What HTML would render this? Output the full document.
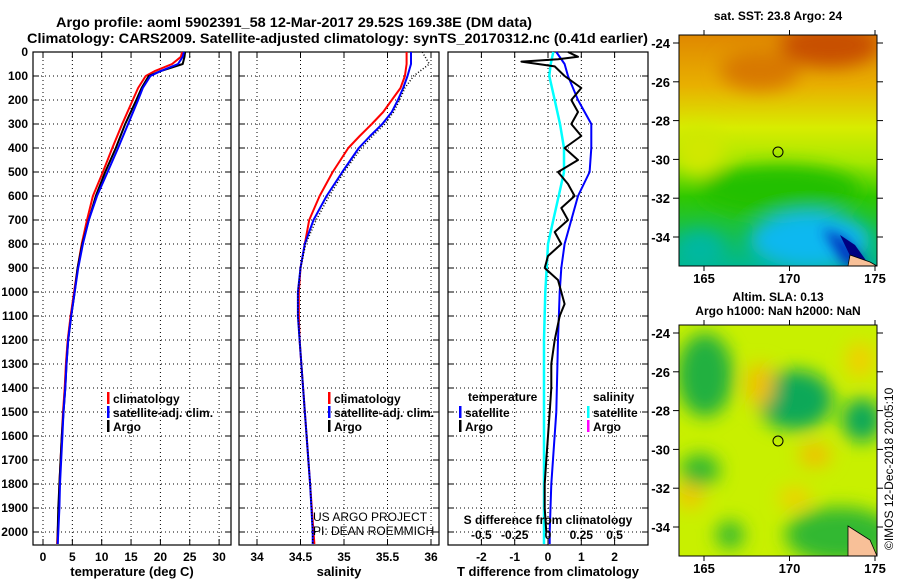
<!DOCTYPE html>
<html><head><meta charset="utf-8"><style>
html,body{margin:0;padding:0;background:#fff}
svg{display:block;font-family:"Liberation Sans",sans-serif}
.b{font-weight:bold}
</style></head><body>
<svg id="c" width="900" height="580" viewBox="0 0 900 580" xmlns="http://www.w3.org/2000/svg">
<defs>
<filter id="bl" x="-20%" y="-20%" width="140%" height="140%"><feGaussianBlur stdDeviation="9"/></filter>
<filter id="bl2" x="-20%" y="-20%" width="140%" height="140%"><feGaussianBlur stdDeviation="6"/></filter>
<clipPath id="m1"><rect x="679" y="35" width="198" height="231"/></clipPath>
<clipPath id="m2"><rect x="679" y="325" width="198" height="231"/></clipPath>
<linearGradient id="sst" x1="0" y1="0" x2="0" y2="1">
<stop offset="0" stop-color="#e08800"/><stop offset="0.22" stop-color="#e8b000"/><stop offset="0.4" stop-color="#d8ec00"/><stop offset="0.55" stop-color="#a8e800"/><stop offset="0.7" stop-color="#30c800"/><stop offset="1" stop-color="#00b890"/>
</linearGradient>
</defs>
<text class="b" x="56" y="27" font-size="14" textLength="476" lengthAdjust="spacingAndGlyphs">Argo profile: aoml 5902391_58 12-Mar-2017 29.52S 169.38E (DM data)</text>
<text class="b" x="27" y="43" font-size="14" textLength="621" lengthAdjust="spacingAndGlyphs">Climatology: CARS2009. Satellite-adjusted climatology: synTS_20170312.nc (0.41d earlier)</text>
<g id="plots"></g>
<g clip-path="url(#m1)">
<rect x="679" y="35" width="198" height="231" fill="url(#sst)"/>
<g filter="url(#bl)">
<ellipse cx="830" cy="45" rx="50" ry="22" fill="#c85000"/>
<ellipse cx="760" cy="70" rx="40" ry="20" fill="#d87800"/>
<ellipse cx="780" cy="190" rx="80" ry="25" fill="#20c000"/>
<ellipse cx="700" cy="150" rx="25" ry="25" fill="#d0e800"/>
<ellipse cx="810" cy="240" rx="60" ry="28" fill="#10b8f0"/>
<ellipse cx="700" cy="250" rx="25" ry="20" fill="#00b8a0"/>
</g>
<polygon points="822,228 845,238 868,266 845,266" fill="#0030c0" filter="url(#bl2)"/>
<polygon points="840,235 855,245 870,266 855,266" fill="#000080"/>
<polygon points="850,255 870,262 877,266 848,266" fill="#f8c098" stroke="#000" stroke-width="0.8"/>
</g>
<rect x="679" y="35" width="198" height="231" fill="none" stroke="#000"/>
<circle cx="778" cy="152" r="5" fill="none" stroke="#000"/>
<g clip-path="url(#m2)">
<rect x="679" y="325" width="198" height="231" fill="#c8f000"/>
<g filter="url(#bl)">
<ellipse cx="705" cy="375" rx="28" ry="42" fill="#20b040"/>
<ellipse cx="795" cy="400" rx="38" ry="30" fill="#10a858"/>
<ellipse cx="862" cy="420" rx="20" ry="22" fill="#10a858"/>
<ellipse cx="760" cy="385" rx="14" ry="22" fill="#f0c000"/>
<ellipse cx="815" cy="455" rx="16" ry="12" fill="#f0c000"/>
<ellipse cx="795" cy="498" rx="16" ry="11" fill="#f0d000"/>
<ellipse cx="690" cy="495" rx="14" ry="14" fill="#f0c800"/>
<ellipse cx="700" cy="470" rx="20" ry="16" fill="#30b830"/>
<ellipse cx="840" cy="535" rx="55" ry="28" fill="#30b830"/>
<ellipse cx="730" cy="535" rx="14" ry="14" fill="#30b830"/>
<ellipse cx="860" cy="360" rx="14" ry="18" fill="#f0d000"/>
</g>
<polygon points="848,526 870,540 877,556 848,556" fill="#f8c098" stroke="#000" stroke-width="0.8"/>
</g>
<rect x="679" y="325" width="198" height="231" fill="none" stroke="#000"/>
<circle cx="778" cy="441" r="5" fill="none" stroke="#000"/>
<text class="b" x="778" y="20" font-size="12" text-anchor="middle">sat. SST: 23.8 Argo: 24</text>
<text class="b" x="778" y="301" font-size="12" text-anchor="middle">Altim. SLA: 0.13</text>
<text class="b" x="778" y="315" font-size="12" text-anchor="middle">Argo h1000: NaN h2000: NaN</text>
<text x="893" y="550" font-size="12" transform="rotate(-90 893 550)">©IMOS 12-Dec-2018 20:05:10</text>
<g id="mapax"></g>
<text x="313" y="521" font-size="12">US ARGO PROJECT</text>
<text x="313" y="535" font-size="12">PI: DEAN ROEMMICH</text>
</svg>
<script>
const depthTicks=[0,100,200,300,400,500,600,700,800,900,1000,1100,1200,1300,1400,1500,1600,1700,1800,1900,2000];
const tempTicks=[0,5,10,15,20,25,30];
const salTicks=[34,34.5,35,35.5,36];
const tdiffTicks=[-2,-1,0,1,2];
const sdiffTicks=[-0.5,-0.25,0,0.25,0.5];
const sdiffLabels=['-0.5','-0.25','0','0.25','0.5'];
const tempDepth=[0,20,50,80,100,150,200,300,400,500,600,700,800,900,1000,1100,1200,1300,1400,1500,1600,1700,1800,1900,2000,2050];
const tempClim=[23.7,23.5,22,19,17.5,16.2,15.3,13.5,11.8,10.2,8.5,7.5,6.6,5.9,5.3,4.7,4.2,3.9,3.7,3.4,3.2,3.0,2.8,2.7,2.5,2.4];
const tempSat=[24,23.8,23,20,18.3,17.0,16.2,14.5,12.8,11.0,9.2,7.8,6.8,6.0,5.4,4.8,4.3,4.0,3.8,3.5,3.3,3.1,2.9,2.8,2.6,2.5];
const tempArgo=[24.2,24.1,23.8,20,18,16.8,15.9,14.0,12.4,10.6,9.0,7.8,6.7,5.9,5.4,4.8,4.3,4.0,3.8,3.5,3.2,3.0,2.8,2.6,2.5,2.5];
const salDepth=[0,50,100,150,200,250,300,350,400,500,600,700,800,900,1000,1100,1200,1400,1600,1800,2000,2050];
const salClim=[35.72,35.72,35.7,35.65,35.55,35.45,35.32,35.18,35.05,34.87,34.72,34.6,34.55,34.5,34.48,34.48,34.49,34.53,34.57,34.61,34.65,34.66];
const salSat=[35.77,35.77,35.73,35.68,35.62,35.55,35.44,35.3,35.17,34.98,34.8,34.65,34.55,34.5,34.47,34.47,34.49,34.53,34.57,34.61,34.64,34.64];
const salArgo=[35.9,35.98,35.8,35.7,35.64,35.57,35.47,35.33,35.2,35.0,34.83,34.68,34.56,34.5,34.47,34.47,34.49,34.53,34.57,34.61,34.64,34.64];
const diffDepth=[0,50,100,200,300,400,500,600,700,800,900,1000,1200,1500,1800,2000,2050];
const tdiffSat=[0.25,0.5,0.6,0.9,1.3,1.3,1.25,0.9,0.7,0.5,0.4,0.35,0.3,0.25,0.1,0.05,0.05];
const sdiffSat=[0.04,0.02,0.01,0.05,0.09,0.12,0.12,0.08,0.04,0.0,-0.01,-0.02,-0.03,-0.03,-0.03,-0.03,-0.03];
const argoDiffDepth=[0,20,30,40,60,100,150,200,250,300,350,400,450,500,550,600,650,700,750,800,850,900,950,1000,1050,1100,1200,1300,1400,1500,1600,1700,1800,1900,2000];
const tdiffArgo=[0.6,0.9,0.3,-0.8,0.2,0.5,1.0,0.7,0.9,0.7,1.0,0.5,0.9,0.3,0.6,0.8,0.4,0.6,0.2,0.4,0.0,-0.1,0.3,0.4,0.5,0.35,0.2,0.1,0.1,0.05,0,-0.05,-0.1,-0.1,-0.05];
const latTicks=[-24,-26,-28,-30,-32,-34];
const lonTicks=[165,170,175];

const NS='http://www.w3.org/2000/svg';
const G=document.getElementById('plots');
function mk(t,a,p){const e=document.createElementNS(NS,t);for(const k in a)e.setAttribute(k,a[k]);(p||G).appendChild(e);return e;}
const Y=d=>52+d*0.24;
const yTop=52,yBot=545;
const panels=[
 {name:'temperature',x0:33,x1:231,f:v=>43+v*5.87,ticks:tempTicks,label:'temperature (deg C)'},
 {name:'salinity',x0:239,x1:439,f:v=>257+(v-34)*87,ticks:salTicks,label:'salinity'},
 {name:'difference',x0:448,x1:648,f:v=>548+v*33.3,ticks:tdiffTicks,label:'T difference from climatology'}
];
const fs=v=>548+v*133.2;
panels.forEach((p,i)=>{
 const g=mk('g',{});
 
 
 depthTicks.forEach(d=>{
  if(d>0) mk('line',{x1:p.x0,x2:p.x1,y1:Y(d),y2:Y(d),stroke:'#000','stroke-dasharray':'1 3','stroke-width':1},g);
  mk('line',{x1:p.x0,x2:p.x0+6,y1:Y(d),y2:Y(d),stroke:'#000'},g);
  mk('line',{x1:p.x1,x2:p.x1-6,y1:Y(d),y2:Y(d),stroke:'#000'},g);
 });
 p.ticks.forEach(v=>{
  const x=p.f(v);
  mk('line',{x1:x,x2:x,y1:yTop,y2:yBot,stroke:'#000','stroke-dasharray':'1 3'},g);
  mk('line',{x1:x,x2:x,y1:yBot,y2:yBot-6,stroke:'#000'},g);
  mk('line',{x1:x,x2:x,y1:yTop,y2:yTop+6,stroke:'#000'},g);
  const t=mk('text',{x:x,y:561,'font-size':12,'text-anchor':'middle','class':'b'},g);
  
  
  t.textContent=String(v);
 });
 mk('rect',{x:p.x0,y:yTop,width:p.x1-p.x0,height:yBot-yTop,fill:'none',stroke:'#000','stroke-width':1.2},g);
 const tl=mk('text',{x:(p.x0+p.x1)/2,y:576,'font-size':13,'text-anchor':'middle','class':'b'},g);
 
 
 tl.textContent=p.label;
});
depthTicks.forEach(d=>{
 const t=mk('text',{x:28,y:Y(d)+4,'font-size':12,'text-anchor':'end','class':'b'});
 
 
 t.textContent=String(d);
});
function line(xs,ds,f,col,w,name,dash){
 const pts=xs.map((v,i)=>f(v).toFixed(1)+','+Y(ds[i]).toFixed(1)).join(' ');
 const e=mk('polyline',{points:pts,fill:'none',stroke:col,'stroke-width':w,'stroke-linejoin':'round'});
 if(dash)e.setAttribute('stroke-dasharray',dash);
 
 
}
const P=panels;
line(tempClim,tempDepth,P[0].f,'#f00',2,'temp-climatology-line');
line(tempArgo,tempDepth,P[0].f,'#000',2,'temp-argo-line');
line(tempSat,tempDepth,P[0].f,'#00f',2,'temp-satellite-line');
line(salClim,salDepth,P[1].f,'#f00',2,'sal-climatology-line');
line(salSat,salDepth,P[1].f,'#00f',2,'sal-satellite-line');
line(salArgo,salDepth,P[1].f,'#000',1.5,'sal-argo-line','1 2');
line(sdiffSat,diffDepth,fs,'#0ff',2.5,'sdiff-satellite-line');
line(tdiffSat,diffDepth,P[2].f,'#00f',2,'tdiff-satellite-line');
line(tdiffArgo,argoDiffDepth,P[2].f,'#000',2,'tdiff-argo-line');
const sl=mk('text',{x:548,y:524,'font-size':12,'text-anchor':'middle','class':'b'});


sl.textContent='S difference from climatology';
sdiffTicks.forEach((v,i)=>{
 const t=mk('text',{x:fs(v),y:539,'font-size':12,'text-anchor':'middle','class':'b'});
 
 
 t.textContent=sdiffLabels[i];
});
function legend(x,y,col,txt,name){
 mk('rect',{x:x,y:y-6,width:2.5,height:12,fill:col});
 const t=mk('text',{x:x+6,y:y+5,'font-size':12,'class':'b'});
 
 
 t.textContent=txt;
}
legend(107,398,'#f00','climatology','temp-legend-climatology');
legend(107,412,'#00f','satellite-adj. clim.','temp-legend-satellite');
legend(107,426,'#000','Argo','temp-legend-argo');
legend(328,398,'#f00','climatology','sal-legend-climatology');
legend(328,412,'#00f','satellite-adj. clim.','sal-legend-satellite');
legend(328,426,'#000','Argo','sal-legend-argo');
const tt=mk('text',{x:468,y:401,'font-size':12,'class':'b'});tt.textContent='temperature';


const st=mk('text',{x:593,y:401,'font-size':12,'class':'b'});st.textContent='salinity';


legend(459,412,'#00f','satellite','tdiff-legend-satellite');
legend(459,426,'#000','Argo','tdiff-legend-argo');
legend(587,412,'#0ff','satellite','sdiff-legend-satellite');
legend(587,426,'#f0f','Argo','sdiff-legend-argo');
const MA=document.getElementById('mapax');
const lonX=v=>704+(v-165)*17.1;
[[35,266,43],[325,556,333]].forEach(m=>{
 latTicks.forEach(v=>{
  const yy=m[2]+(-24-v)*19.4;
  mk('line',{x1:679,x2:673,y1:yy,y2:yy,stroke:'#000'},MA);
  mk('line',{x1:877,x2:883,y1:yy,y2:yy,stroke:'#000'},MA);
  const t=mk('text',{x:670,y:yy+5,'font-size':13,'text-anchor':'end','class':'b'},MA);
  
  
  t.textContent=String(v);
 });
 lonTicks.forEach(v=>{
  const x=lonX(v);
  mk('line',{x1:x,x2:x,y1:m[0],y2:m[0]-5,stroke:'#000'},MA);
  mk('line',{x1:x,x2:x,y1:m[1],y2:m[1]+5,stroke:'#000'},MA);
  const t=mk('text',{x:x,y:m[1]+17,'font-size':13,'text-anchor':'middle','class':'b'},MA);
  
  
  t.textContent=String(v);
 });
});
</script>
</body></html>
